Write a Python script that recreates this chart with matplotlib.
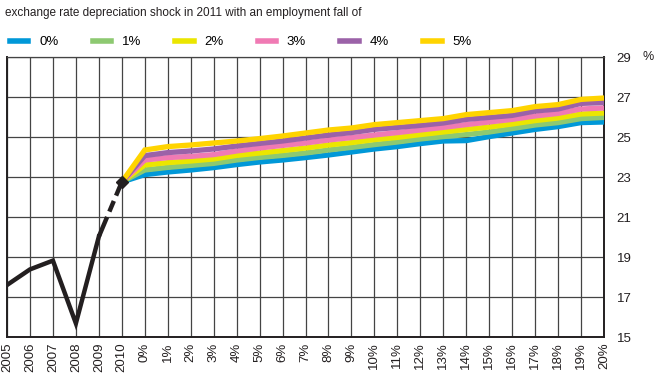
import numpy as np
import matplotlib
matplotlib.use('Agg')
import matplotlib.pyplot as plt
from matplotlib import font_manager

# フォント --------------------------------
names = {f.name for f in font_manager.fontManager.ttflist}
fam = ['Liberation Sans Narrow', 'DejaVu Sans'] if 'Liberation Sans Narrow' in names else ['Liberation Sans', 'DejaVu Sans']
plt.rcParams['font.family'] = fam

# データ ----------------------------------
years = ['2005', '2006', '2007', '2008', '2009', '2010']
hist = [17.6, 18.38, 18.82, 15.68, 20.02, 22.75]
shock = ['%d%%' % k for k in range(21)]
categories = years + shock

fall_labels = ['0%', '1%', '2%', '3%', '4%', '5%']
fall_colors = ['#0098d8', '#8dc971', '#ebe600', '#f07ab4', '#9b62a8', '#ffd400']
s0 = [23.12, 23.25, 23.35, 23.47, 23.62, 23.75, 23.85, 23.97, 24.1, 24.25, 24.4,
      24.52, 24.67, 24.8, 24.82, 25.02, 25.2, 25.38, 25.52, 25.72, 25.75]
s1 = [23.35, 23.48, 23.58, 23.68, 23.85, 23.98, 24.08, 24.2, 24.35, 24.48, 24.62,
      24.75, 24.9, 25.02, 25.12, 25.25, 25.42, 25.6, 25.72, 25.92, 25.98]
s2 = [23.6, 23.72, 23.8, 23.9, 24.08, 24.2, 24.32, 24.45, 24.6, 24.72, 24.87,
      24.98, 25.12, 25.25, 25.38, 25.5, 25.65, 25.82, 25.95, 26.15, 26.2]
s3 = [23.85, 23.97, 24.03, 24.12, 24.3, 24.45, 24.58, 24.7, 24.85, 24.97, 25.1,
      25.22, 25.35, 25.48, 25.62, 25.75, 25.88, 26.05, 26.18, 26.4, 26.45]
s4 = [24.07, 24.22, 24.3, 24.4, 24.55, 24.68, 24.8, 24.95, 25.1, 25.22, 25.38,
      25.48, 25.58, 25.7, 25.88, 25.98, 26.08, 26.3, 26.4, 26.68, 26.72]
s5 = [24.35, 24.52, 24.6, 24.7, 24.8, 24.92, 25.05, 25.2, 25.35, 25.45, 25.62,
      25.72, 25.82, 25.92, 26.12, 26.22, 26.32, 26.52, 26.62, 26.88, 26.95]
series = [s0, s1, s2, s3, s4, s5]

# 図 --------------------------------------
fig = plt.figure(figsize=(6.54, 3.77), dpi=100)
ax = fig.add_axes([7 / 654, 1 - 337 / 377, 597 / 654, 280 / 377])

x = np.arange(len(categories))
n_hist = len(years)

handles = []
for s, c, lab in zip(series, fall_colors, fall_labels):
    xs = x[n_hist - 1:]
    ys = [hist[-1]] + s
    h, = ax.plot(xs, ys, color=c, lw=3.8, solid_joinstyle='miter', label=lab, zorder=3)
    handles.append(h)

# 過去の推移 (実線 + 破線)
ax.plot(x[:n_hist - 1], hist[:-1], color='#231f20', lw=3.2, solid_joinstyle='miter', zorder=4)
ax.plot(x[n_hist - 2:n_hist], hist[-2:], color='#231f20', lw=3.2,
        dashes=(4.8, 1.3, 2.6, 1.3), zorder=4)
ax.plot(x[n_hist - 1], hist[-1], marker='D', color='#231f20', markersize=6, zorder=5)

ax.set_xlim(0, len(categories) - 1)
ax.set_ylim(15, 29)
ax.set_xticks(x)
ax.set_xticklabels(categories, rotation=90, fontsize=9.5, color='#231f20')
ax.set_yticks(range(15, 30, 2))
ax.yaxis.tick_right()
ax.tick_params(axis='y', length=0, pad=9, labelsize=9.5, labelcolor='#231f20')
ax.tick_params(axis='x', length=0, pad=4)
ax.grid(True, color='#444444', lw=0.9)
for sp in ax.spines.values():
    sp.set_color('#231f20')
    sp.set_linewidth(1.4)
ax.spines['top'].set_linewidth(0.9)
ax.spines['top'].set_color('#444444')

fig.text(5 / 654, 1 - 13 / 377, 'exchange rate depreciation shock in 2011 with an employment fall of',
         fontsize=8.5, va='center', ha='left', color='#231f20')
fig.text(648 / 654, 1 - 57 / 377, '%', fontsize=9, va='center', ha='center', color='#231f20')

leg = fig.legend(handles=handles, loc='upper left', bbox_to_anchor=(10 / 654, 1 - 36 / 377),
                 ncol=6, frameon=False, fontsize=9.5, handlelength=1.4, handletextpad=0.8,
                 columnspacing=2.6, borderpad=0, borderaxespad=0)
for lh in leg.get_lines():
    lh.set_linewidth(4)

fig.savefig('out.png', dpi=100)
